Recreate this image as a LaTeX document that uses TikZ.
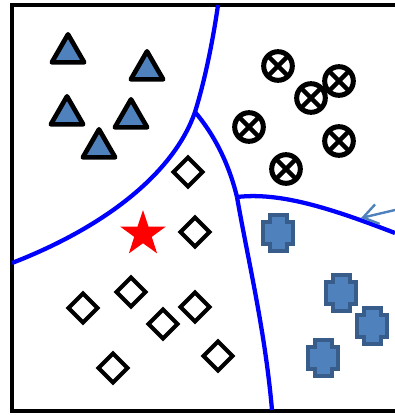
\documentclass[tikz,border=0pt]{standalone}
\usepackage{xcolor}
\usepackage{tikz}
\usetikzlibrary{shapes.geometric, arrows.meta, positioning}
\definecolor{mblue}{HTML}{4F81BD}
\definecolor{mdark}{HTML}{385D8A}
\tikzset{
  frame/.style = {draw=black, line width=3pt},
  bound/.style = {draw=blue, line width=3.2pt},
  tri/.style = {
    regular polygon, regular polygon sides=3,
    minimum size=28pt, inner sep=0pt,
    draw=black, fill=mblue, line width=3.5pt, line join=round
  },
  dia/.style = {
    diamond, minimum size=23pt, inner sep=0pt,
    draw=black, fill=white, line width=3pt
  },
  xcirc/.style = {
    circle, minimum size=21.5pt, inner sep=0pt,
    draw=black, line width=3.75pt,
    path picture={
      \draw[line width=3.2pt] (path picture bounding box.north west)
        -- (path picture bounding box.south east);
      \draw[line width=3.2pt] (path picture bounding box.north east)
        -- (path picture bounding box.south west);
    }
  },
  query/.style = {
    star, star points=5, star point ratio=2.6,
    minimum size=36pt, inner sep=0pt, fill=red
  },
  plusmark/.pic = {
    \draw[draw=mdark, fill=mblue, line width=3pt]
      (-8.5,-18) -- (8.5,-18) -- (8.5,-11) -- (15,-11) -- (15,11)
      -- (8.5,11) -- (8.5,18) -- (-8.5,18) -- (-8.5,11) -- (-15,11)
      -- (-15,-11) -- (-8.5,-11) -- cycle;
  },
  arr/.style = {-{Straight Barb[length=11pt, width=15pt]},
    draw=mblue, line width=1.8pt}
}
\begin{document}
\begin{tikzpicture}[x=0.75pt, y=-0.75pt]
\useasboundingbox (0,0) rectangle (395,415);

%% Frame (open on the right)
\draw[frame] (395,5) -- (12,5) -- (12,411) -- (395,411);

%% Decision boundaries
\coordinate (lend) at (12,263);
\coordinate (tend) at (218,5);
\coordinate (bend) at (272,410);
\coordinate (rend) at (395,233);
\coordinate (ja)   at (195,112);
\coordinate (jb)   at (237,197);

\draw[bound] (lend) .. controls (110,225) and (175,170) .. (ja)
  .. controls (205,80) and (213,40) .. (tend);
\draw[bound] (ja) .. controls (212,132) and (228,160) .. (jb);
\draw[bound] (jb) .. controls (248,260) and (265,330) .. (bend);
\draw[bound] (jb) .. controls (280,192) and (330,208) .. (rend);

%% Class 1: triangles
\node[tri] (tri1) at (68,53)  {};
\node[tri] (tri2) at (147,70) {};
\node[tri] (tri3) at (67,115) {};
\node[tri] (tri4) at (131,118) {};
\node[tri] (tri5) at (99,148) {};

%% Class 2: crossed circles
\node[xcirc] (cir1) at (278,66)  {};
\node[xcirc] (cir2) at (311,98)  {};
\node[xcirc] (cir3) at (339,81)  {};
\node[xcirc] (cir4) at (249,127) {};
\node[xcirc] (cir5) at (339,141) {};
\node[xcirc] (cir6) at (286,169) {};

%% Class 3: diamonds
\node[dia] (dia1) at (188,172) {};
\node[dia] (dia2) at (195,232) {};
\node[dia] (dia3) at (83,308)  {};
\node[dia] (dia4) at (131,292) {};
\node[dia] (dia5) at (163,324) {};
\node[dia] (dia6) at (195,307) {};
\node[dia] (dia7) at (113,368) {};
\node[dia] (dia8) at (218,356) {};

%% Class 4: plus signs
\pic (pls1) at (278,233) {plusmark};
\pic (pls2) at (341,293) {plusmark};
\pic (pls3) at (372,326) {plusmark};
\pic (pls4) at (323,358) {plusmark};

%% Query point
\node[query] (qry) at (143,234) {};

%% Pointer
\coordinate (arrstart) at (395,210);
\coordinate (arrtip)   at (361,218);
\draw[arr] (arrstart) -- (arrtip);

\end{tikzpicture}
\end{document}
